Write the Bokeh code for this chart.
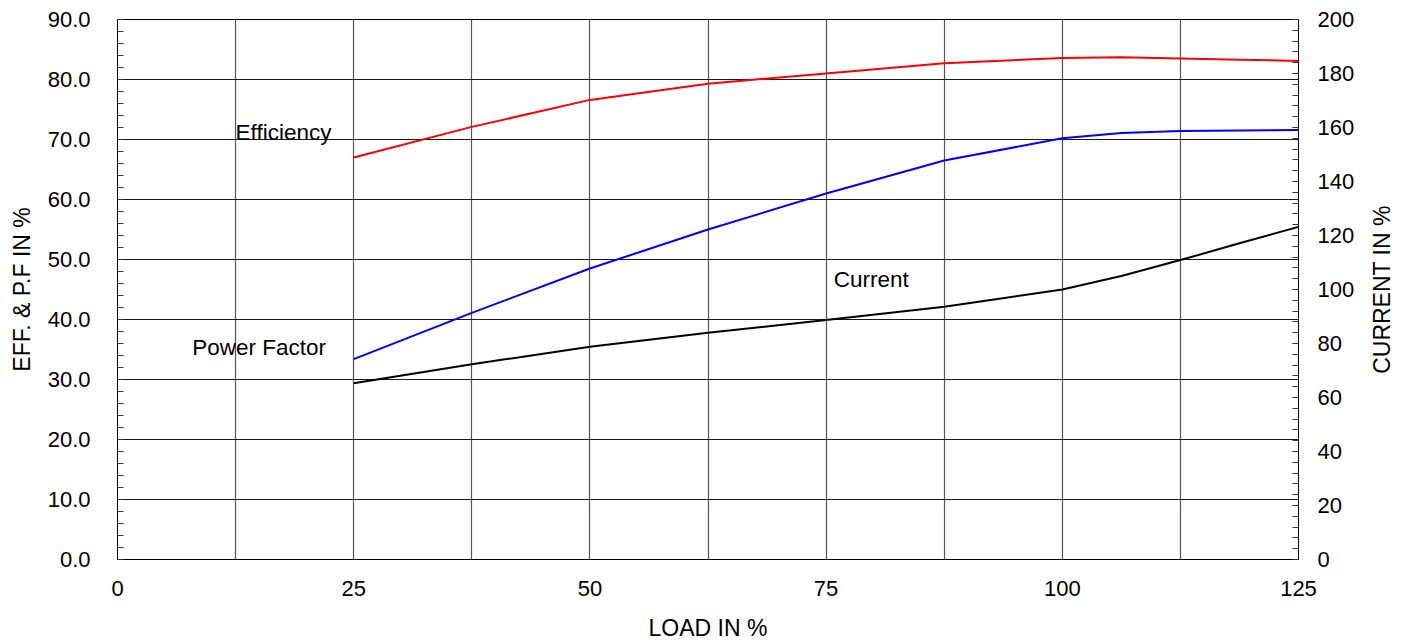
from bokeh.plotting import figure
from bokeh.layouts import row
from bokeh.models import Range1d, LinearAxis, FixedTicker, PrintfTickFormatter, ColumnDataSource
from bokeh.core.properties import value
from bokeh.embed import file_html
from bokeh.resources import INLINE

# ---- data ----
load = [25, 37.5, 50, 62.5, 75, 87.5, 100, 106.25, 112.5, 118.75, 125]
efficiency = [67.0, 72.1, 76.6, 79.3, 81.0, 82.7, 83.6, 83.7, 83.5, 83.3, 83.1]
power_factor = [33.4, 41.1, 48.5, 55.0, 61.0, 66.5, 70.2, 71.1, 71.4, 71.5, 71.6]
current = [65.3, 72.3, 78.8, 84.0, 88.7, 93.6, 100.0, 105.0, 110.9, 117.1, 123.2]

x_ticks = [0, 25, 50, 75, 100, 125]
x_grid = [0, 12.5, 25, 37.5, 50, 62.5, 75, 87.5, 100, 112.5, 125]
left_ticks = [0, 10, 20, 30, 40, 50, 60, 70, 80, 90]
right_ticks = [0, 20, 40, 60, 80, 100, 120, 140, 160, 180, 200]

label_names = ["Efficiency", "Power Factor", "Current"]
label_x = [12.5, 7.9, 75.8]
label_y = [71.1, 35.4, 46.6]

x_title = "LOAD IN %"
left_title = "EFF. & P.F IN %"
right_title = "CURRENT IN %"

FONT = "Liberation Sans"

p = figure(width=1358, height=643, output_backend="svg", toolbar_location=None,
           x_range=Range1d(0, 125), y_range=Range1d(0, 90),
           min_border_left=117, min_border_right=60, min_border_top=19, min_border_bottom=83)
p.extra_y_ranges = {"cur": Range1d(0, 200)}

p.background_fill_color = "white"
p.border_fill_color = "white"
p.outline_line_color = "black"
p.outline_line_width = 1

# grids
p.xgrid.ticker = FixedTicker(ticks=x_grid)
p.xgrid.grid_line_color = "#555555"
p.xgrid.grid_line_width = 1.2
p.ygrid.ticker = FixedTicker(ticks=left_ticks)
p.ygrid.grid_line_color = "#1a1a1a"
p.ygrid.grid_line_width = 1

# x axis
xa = p.xaxis[0]
xa.ticker = FixedTicker(ticks=x_ticks)
xa.axis_label = x_title
xa.major_tick_in = 0
xa.major_tick_out = 0
xa.minor_tick_in = 0
xa.minor_tick_out = 0
xa.major_label_standoff = 21
xa.axis_label_standoff = 16

# left axis
ya = p.yaxis[0]
ya.ticker = FixedTicker(ticks=left_ticks, minor_ticks=list(range(0, 91, 2)))
ya.formatter = PrintfTickFormatter(format="%.1f")
ya.axis_label = left_title
ya.major_tick_in = 6
ya.major_tick_out = 0
ya.minor_tick_in = 6
ya.minor_tick_out = 0
ya.major_label_standoff = 27
ya.axis_label_standoff = 10

# right axis (ticks and labels)
ra = LinearAxis(y_range_name="cur")
ra.ticker = FixedTicker(ticks=right_ticks, minor_ticks=list(range(0, 201, 4)))
ra.major_tick_in = 6
ra.major_tick_out = 0
ra.minor_tick_in = 6
ra.minor_tick_out = 0
ra.major_label_standoff = 19
p.add_layout(ra, "right")

for ax in [xa, ya, ra]:
    ax.axis_line_color = "black"
    ax.major_tick_line_color = "#333333"
    ax.minor_tick_line_color = "#333333"
    ax.major_label_text_font = FONT
    ax.major_label_text_font_size = "22px"
    ax.major_label_text_color = "black"
    ax.axis_label_text_font = FONT
    ax.axis_label_text_font_size = "23px"
    ax.axis_label_text_font_style = "normal"
    ax.axis_label_text_color = "black"

# series
p.line(load, efficiency, line_color="#ff0000", line_width=2)
p.line(load, power_factor, line_color="#0000ff", line_width=2)
p.line(load, current, line_color="black", line_width=2, y_range_name="cur")

src = ColumnDataSource(dict(x=label_x, y=label_y, t=label_names))
p.text(x="x", y="y", text="t", source=src, text_align="left", text_baseline="middle",
       text_font=value(FONT), text_font_size="22.5px", text_color="black")

# narrow companion figure carrying the right-hand title (reads bottom-to-top)
p2 = figure(width=44, height=643, output_backend="svg", toolbar_location=None,
            x_range=Range1d(0, 1), y_range=Range1d(0, 1),
            min_border_left=38, min_border_right=0, min_border_top=19, min_border_bottom=83)
p2.outline_line_color = None
p2.background_fill_color = "white"
p2.border_fill_color = "white"
p2.xaxis.visible = False
p2.grid.visible = False
ta = p2.yaxis[0]
ta.ticker = FixedTicker(ticks=[], minor_ticks=[])
ta.axis_line_color = None
ta.major_tick_line_color = None
ta.minor_tick_line_color = None
ta.major_tick_in = 0
ta.major_tick_out = 0
ta.minor_tick_in = 0
ta.minor_tick_out = 0
ta.major_label_standoff = 0
ta.axis_label = right_title
ta.axis_label_standoff = 2
ta.axis_label_text_font = FONT
ta.axis_label_text_font_size = "23px"
ta.axis_label_text_font_style = "normal"
ta.axis_label_text_color = "black"

layout = row(p, p2, spacing=0)
open("out.html", "w").write(file_html(layout, INLINE))
